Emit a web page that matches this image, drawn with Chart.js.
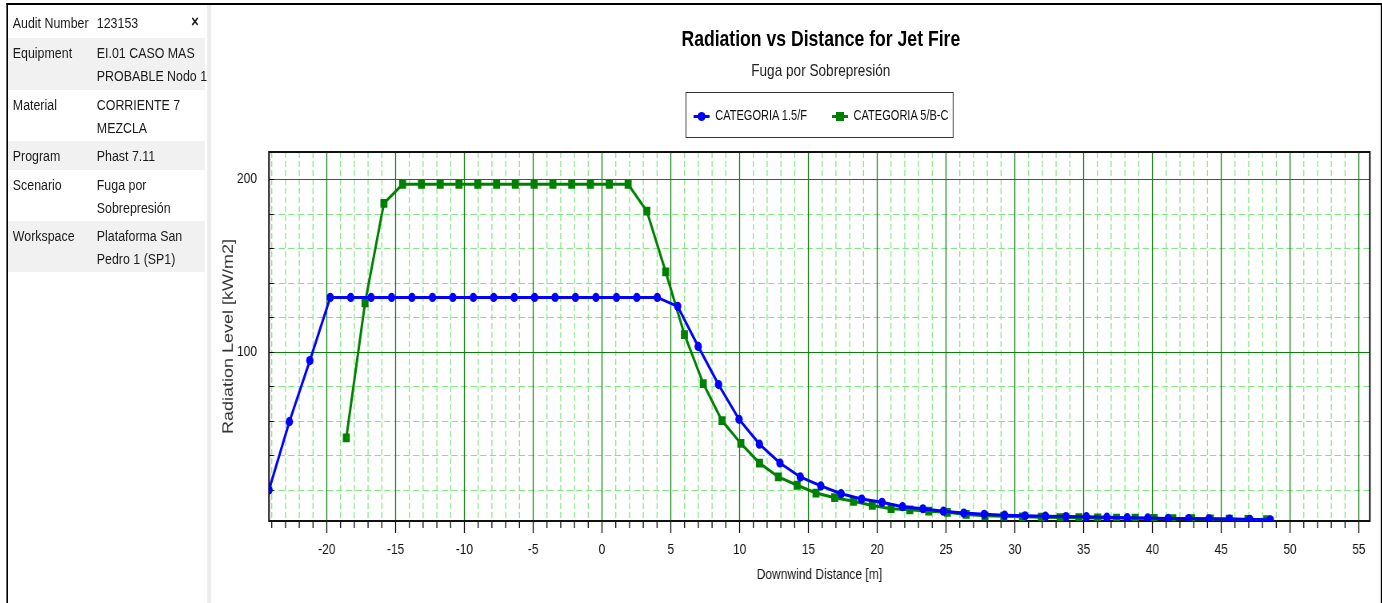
<!DOCTYPE html>
<html>
<head>
<meta charset="utf-8">
<script src="https://cdn.jsdelivr.net/npm/chart.js@4.4.1/dist/chart.umd.min.js"></script>
<style>
  html, body { margin:0; padding:0; background:#fff; }
  body { width:1382px; height:603px; position:relative; overflow:hidden; }
  /* the whole picture is laid out in a wider design space and squeezed horizontally */
  #page { position:absolute; left:0; top:0; width:1728px; height:603px;
          transform:scaleX(0.8); transform-origin:0 0;
          font-family:'Liberation Sans',Arial,sans-serif; color:#1a1a1a; }
  .frame { position:absolute; left:7.5px; top:3px; width:1716px; height:610px;
           border-left:2.5px solid #000; border-top:2px solid #000; border-right:2.5px solid #000; }
  .sep { position:absolute; left:259px; top:5px; width:5px; height:598px; background:#ececec; }
  .row { position:absolute; left:10px; width:246px; font-size:15.5px; line-height:23px; }
  .row.g { background:#f1f1f1; }
  .row .k { position:absolute; left:6px; top:3px; white-space:nowrap; }
  .row .v { position:absolute; left:111px; top:3px; white-space:nowrap; }
  .close { position:absolute; left:239px; top:13px; font-size:16px; font-weight:bold; }
  #title { position:absolute; left:526px; width:1000px; top:27px; text-align:center;
           font-size:22px; line-height:24px; font-weight:bold; color:#000; }
  #subtitle { position:absolute; left:526px; width:1000px; top:61px; text-align:center;
           font-size:17px; line-height:20px; color:#222; }
  #legend { position:absolute; left:857px; top:92px; width:333px; height:44px;
            border:1.8px solid #333; font-size:13.8px; color:#111; }
  .li { position:absolute; top:13px; height:20px; line-height:20px; }
  .sw { position:absolute; top:9px; width:20px; height:3px; }
  .mk { position:absolute; }
  canvas { position:absolute; left:269px; top:0px; }
</style>
</head>
<body>
<div id="page">
<div class="frame"></div>
<div class="sep"></div>

<div class="row" style="top:8px;height:30px;"><span class="k">Audit Number</span><span class="v">123153</span></div>
<div class="close">×</div>
<div class="row g" style="top:38px;height:52px;"><span class="k">Equipment</span><span class="v">EI.01 CASO MAS<br>PROBABLE Nodo 1</span></div>
<div class="row" style="top:90px;height:51px;"><span class="k">Material</span><span class="v">CORRIENTE 7<br>MEZCLA</span></div>
<div class="row g" style="top:141px;height:29px;"><span class="k">Program</span><span class="v">Phast 7.11</span></div>
<div class="row" style="top:170px;height:51px;"><span class="k">Scenario</span><span class="v">Fuga por<br>Sobrepresión</span></div>
<div class="row g" style="top:221px;height:51px;"><span class="k">Workspace</span><span class="v">Plataforma San<br>Pedro 1 (SP1)</span></div>

<div id="title">Radiation vs Distance for Jet Fire</div>
<div id="subtitle">Fuga por Sobrepresión</div>
<div id="legend">
  <div class="li" style="left:9px;">
    <div class="sw" style="left:0;background:#0000ff;"></div>
    <div class="mk" style="left:5px;top:6px;width:10px;height:9px;border-radius:50%;background:#0000ff;"></div>
    <span id="lg0" style="position:absolute;left:27px;white-space:nowrap;"></span>
  </div>
  <div class="li" style="left:182px;">
    <div class="sw" style="left:0;background:#008000;"></div>
    <div class="mk" style="left:5px;top:6px;width:10px;height:9px;background:#008000;"></div>
    <span id="lg1" style="position:absolute;left:27px;white-space:nowrap;"></span>
  </div>
</div>

<canvas id="c" width="1458" height="603"></canvas>
</div>

<script>
// ---- data ----
const seriesNames = ['CATEGORIA 1.5/F', 'CATEGORIA 5/B-C'];
const xTitle = 'Downwind Distance [m]';
const yTitle = 'Radiation Level [kW/m2]';

const blueX = [-24.2, -22.72, -21.23, -19.75, -18.26, -16.78, -15.29, -13.81, -12.32, -10.84,
  -9.35, -7.87, -6.38, -4.9, -3.41, -1.93, -0.44, 1.05, 2.53, 4.02,
  5.5, 6.99, 8.47, 9.96, 11.44, 12.93, 14.41, 15.9, 17.38, 18.87,
  20.35, 21.84, 23.32, 24.81, 26.29, 27.78, 29.26, 30.75, 32.23, 33.72,
  35.2, 36.69, 38.17, 39.66, 41.14, 42.63, 44.11, 45.6, 47.08, 48.57];
const blueY = [20, 59.5, 94.9, 131.5, 131.5, 131.5, 131.5, 131.5, 131.5, 131.5,
  131.5, 131.5, 131.5, 131.5, 131.5, 131.5, 131.5, 131.5, 131.5, 131.5,
  126.3, 103.1, 81.0, 60.9, 46.5, 35.6, 27.5, 22.3, 17.8, 14.7,
  12.8, 10.3, 9.1, 7.7, 6.6, 5.9, 5.4, 5.0, 4.8, 4.6,
  4.5, 4.2, 3.9, 3.8, 3.5, 3.4, 3.3, 3.1, 2.9, 2.7];

const greenX = [-18.58, -17.22, -15.85, -14.49, -13.12, -11.76, -10.39, -9.03, -7.66, -6.3,
  -4.93, -3.57, -2.2, -0.84, 0.53, 1.9, 3.26, 4.63, 5.99, 7.36,
  8.72, 10.09, 11.45, 12.82, 14.18, 15.55, 16.91, 18.28, 19.64, 21.01,
  22.37, 23.74, 25.1, 26.47, 27.83, 29.2, 30.56, 31.93, 33.29, 34.66,
  36.02, 37.39, 38.75, 40.12, 41.48, 42.85, 44.21, 45.58, 46.94, 48.31];
const greenY = [50.2, 128.3, 185.9, 197, 197, 197, 197, 197, 197, 197,
  197, 197, 197, 197, 197, 197, 181.4, 146.3, 110, 81.6,
  60.1, 46.9, 35.5, 27.5, 22.7, 18.2, 15.5, 13.4, 11.0, 9.1,
  8.5, 7.7, 7.0, 5.8, 5.0, 4.8, 4.4, 4.2, 4.0, 3.9,
  3.8, 3.7, 3.6, 3.5, 3.4, 3.3, 3.2, 3.1, 2.9, 2.8];

const xTickLabels = [-20, -15, -10, -5, 0, 5, 10, 15, 20, 25, 30, 35, 40, 45, 50, 55];
const yTickLabels = [100, 200];
const xRange = [-24.2, 55.8];
const yRange = [2, 215.7];

// ---- chart ----
document.getElementById('lg0').textContent = seriesNames[0];
document.getElementById('lg1').textContent = seriesNames[1];

const FONT = "'Liberation Sans',Arial,sans-serif";
const xy = (xs, ys) => xs.map((x, i) => ({x, y: ys[i]}));
const isMajX = v => xTickLabels.includes(v);
const isMajY = v => yTickLabels.includes(v);
const MAJ = 'rgb(10,128,10)', MIN = 'rgb(130,230,130)';

const xGrid = [];
for (let v = Math.ceil(xRange[0]); v <= Math.floor(xRange[1]); v++) xGrid.push(v);
const yGrid = [];
for (let v = 20; v <= 200; v += 20) yGrid.push(v);

const gridAndFrame = {
  id: 'gridAndFrame',
  beforeDatasetsDraw(chart) {
    const {ctx, chartArea: a, scales: {x, y}} = chart;
    ctx.save();
    // minor dashed grid
    ctx.strokeStyle = MIN;
    ctx.lineWidth = 1.25;
    ctx.setLineDash([6, 3]);
    ctx.beginPath();
    x.ticks.forEach(t => {
      if (isMajX(t.value)) return;
      const px = x.getPixelForValue(t.value);
      ctx.moveTo(px, a.top); ctx.lineTo(px, a.bottom);
    });
    ctx.stroke();
    ctx.lineWidth = 1.2;
    ctx.setLineDash([8, 4]);
    ctx.beginPath();
    y.ticks.forEach(t => {
      if (isMajY(t.value)) return;
      const py = Math.round(y.getPixelForValue(t.value)) + 0.5;
      ctx.moveTo(a.left, py); ctx.lineTo(a.right, py);
    });
    ctx.stroke();
    // major solid grid
    ctx.setLineDash([]);
    ctx.strokeStyle = MAJ;
    ctx.lineWidth = 1.25;
    ctx.beginPath();
    x.ticks.forEach(t => {
      if (!isMajX(t.value)) return;
      const px = x.getPixelForValue(t.value);
      ctx.moveTo(px, a.top); ctx.lineTo(px, a.bottom);
    });
    ctx.stroke();
    ctx.lineWidth = 1.2;
    ctx.beginPath();
    y.ticks.forEach(t => {
      if (!isMajY(t.value)) return;
      const py = Math.round(y.getPixelForValue(t.value)) + 0.5;
      ctx.moveTo(a.left, py); ctx.lineTo(a.right, py);
    });
    ctx.stroke();
    // tick marks
    ctx.strokeStyle = '#000';
    ctx.lineWidth = 1.25;
    ctx.beginPath();
    x.ticks.forEach(t => {
      const px = x.getPixelForValue(t.value);
      const len = isMajX(t.value) ? 12 : 7;
      ctx.moveTo(px, a.bottom); ctx.lineTo(px, a.bottom + len);
    });
    ctx.stroke();
    ctx.lineWidth = 1;
    ctx.beginPath();
    y.ticks.forEach(t => {
      const py = Math.round(y.getPixelForValue(t.value)) + 0.5;
      ctx.moveTo(a.left, py); ctx.lineTo(a.left + 6, py);
    });
    ctx.stroke();
    // plot frame
    ctx.lineWidth = 2;
    ctx.strokeStyle = '#111';
    ctx.strokeRect(a.left, a.top, a.right - a.left, a.bottom - a.top);
    ctx.restore();
  }
};

new Chart(document.getElementById('c'), {
  type: 'scatter',
  data: {
    datasets: [
      { label: seriesNames[0], data: xy(blueX, blueY), showLine: true,
        borderColor: '#0000ff', backgroundColor: '#0000ff', borderWidth: 3,
        pointStyle: 'circle', pointRadius: 4.6, pointBorderWidth: 0 },
      { label: seriesNames[1], data: xy(greenX, greenY), showLine: true,
        borderColor: '#008000', backgroundColor: '#008000', borderWidth: 3,
        pointStyle: 'rect', pointRadius: 6.2, pointBorderWidth: 0 }
    ]
  },
  options: {
    responsive: false, animation: false, devicePixelRatio: 1,
    layout: { padding: { top: 152, right: 11, bottom: 0, left: 0 } },
    plugins: { legend: { display: false }, title: { display: false }, tooltip: { enabled: false } },
    scales: {
      x: {
        type: 'linear', min: xRange[0], max: xRange[1],
        afterBuildTicks: s => { s.ticks = xGrid.map(v => ({value: v})); },
        afterFit: s => { s.height = 82; },
        ticks: { autoSkip: false, maxRotation: 0, padding: 20, color: '#111',
                 font: { family: FONT, size: 15 },
                 callback: v => isMajX(v) ? String(v) : '' },
        grid: { display: false, drawTicks: false },
        border: { display: false },
        title: { display: true, text: xTitle, color: '#111',
                 font: { family: FONT, size: 15 }, padding: { top: 0, bottom: 19 } }
      },
      y: {
        type: 'linear', min: yRange[0], max: yRange[1],
        afterBuildTicks: s => { s.ticks = yGrid.map(v => ({value: v})); },
        afterFit: s => { s.width = 67.25; },
        ticks: { autoSkip: false, padding: 15, color: '#111',
                 font: { family: FONT, size: 15 },
                 callback: v => isMajY(v) ? String(v) : '' },
        grid: { display: false, drawTicks: false },
        border: { display: false },
        title: { display: true, text: yTitle, color: '#333',
                 font: { family: FONT, size: 18 }, padding: { top: 6.5, bottom: 0 } }
      }
    }
  },
  plugins: [gridAndFrame]
});
</script>
</body>
</html>
